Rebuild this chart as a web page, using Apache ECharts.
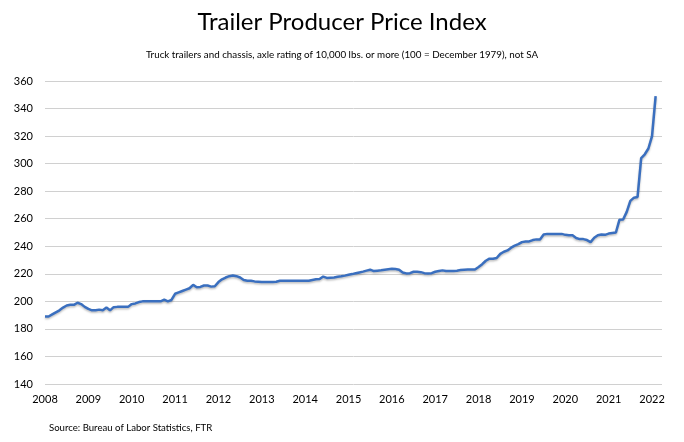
<!doctype html>
<meta charset="utf-8">
<style>
  html, body {
    margin: 0;
    height: 100%;
    background: #fff;
  }

  #chart {
    width: 684px;
    height: 442px;
  }
</style>
<script src="https://cdn.jsdelivr.net/npm/echarts@6/dist/echarts.min.js"></script>

<div id="chart"></div>

<script>
  const TITLE = 'Trailer Producer Price Index'
  const SUBTITLE = 'Truck trailers and chassis, axle rating of 10,000 lbs. or more (100 = December 1979), not SA'
  const SOURCE = 'Source: Bureau of Labor Statistics, FTR'

  // monthly index, Jan 2008 onwards
  const startYear = 2008
  const yearTicks = [2008, 2009, 2010, 2011, 2012, 2013, 2014, 2015, 2016, 2017, 2018, 2019, 2020, 2021, 2022]
  const ppi = [
    189, 189, 190.5, 192, 193.5, 195.5, 197, 197.5, 197.5, 199, 198, 196,
    194.5, 193.5, 193.5, 194, 193.5, 195.5, 193.5, 195.8, 196, 196, 196, 196,
    198, 198.5, 199.5, 200, 200, 200, 200, 200, 200, 201.2, 200, 201,
    205.5, 206.5, 207.5, 208.5, 209.5, 212, 210.3, 210.5, 211.5, 211.5, 210.7, 211,
    214, 216, 217.3, 218.3, 218.8, 218.3, 217.3, 215.5, 215, 215, 214.5, 214.3,
    214, 214, 214, 214, 214.3, 214.9, 215, 215, 215, 215, 215, 215,
    215, 215, 215.5, 216, 216.2, 218, 217, 217.2, 217.3, 217.8, 218.2, 218.7,
    219.3, 219.8, 220.4, 221, 221.6, 222.3, 223, 222, 222.3, 222.6, 223, 223.3,
    223.6, 223.5, 223, 221, 220.3, 220.5, 221.5, 221.5, 221.2, 220.5, 220.3, 220.5,
    221.5, 222, 222.5, 222, 222, 222, 222.3, 222.7, 223, 223.2, 223.2, 223.2,
    225, 227, 229.5, 231, 231, 231.5, 234.5, 236, 237, 239, 240.5, 241.5,
    243, 243.5, 243.5, 244.5, 245, 245, 248.5, 249, 249, 249, 249, 249,
    248.3, 248, 248, 246, 245.2, 245.2, 244.5, 243, 246.2, 248, 248.6, 248.3,
    249.2, 249.6, 250, 259.3, 259.5, 265, 273, 275.3, 275.8, 304, 306.8, 311,
    320, 349,
  ]

  const font = 'Lato, "Open Sans", sans-serif'
  let chart = echarts.init(document.getElementById('chart'))

  chart.setOption({
    animation: false,
    title: [
      {
        text: TITLE,
        left: 'center',
        top: 5,
        textStyle: { color: '#000', fontFamily: font, fontSize: 24, fontWeight: 'normal' },
      },
      {
        text: SUBTITLE,
        left: 'center',
        top: 45,
        textStyle: { color: '#000', fontFamily: font, fontSize: 9.8, fontWeight: 'normal' },
      },
      {
        text: SOURCE,
        left: 44,
        top: 418,
        textStyle: { color: '#000', fontFamily: font, fontSize: 9.6, fontWeight: 'normal' },
      },
    ],
    grid: {
      left: 45,
      right: 22,
      top: 81,
      bottom: 58,
    },
    xAxis: {
      type: 'value',
      min: yearTicks[0],
      max: 2022.23,
      interval: 1,
      axisLine: { show: false },
      axisTick: { show: false },
      splitLine: { show: false },
      axisLabel: {
        color: '#000',
        fontFamily: font,
        fontSize: 11,
        margin: 10,
        showMaxLabel: false,
        formatter: v => yearTicks.includes(v) ? String(v) : '',
      },
    },
    yAxis: {
      type: 'value',
      min: 140,
      max: 360,
      interval: 20,
      axisLine: { show: false },
      axisTick: { show: false },
      splitLine: { lineStyle: { color: '#d0d0d0', width: 1 } },
      axisLabel: {
        color: '#000',
        fontFamily: font,
        fontSize: 11,
        margin: 12,
      },
    },
    series: {
      type: 'line',
      data: ppi.map((v, i) => [startYear + i / 12, v]),
      showSymbol: false,
      lineStyle: {
        color: '#3a6fbf',
        width: 2.5,
        shadowColor: 'rgba(0,0,0,0.25)',
        shadowBlur: 2,
        shadowOffsetY: 1.5,
      },
    },
  })
</script>
